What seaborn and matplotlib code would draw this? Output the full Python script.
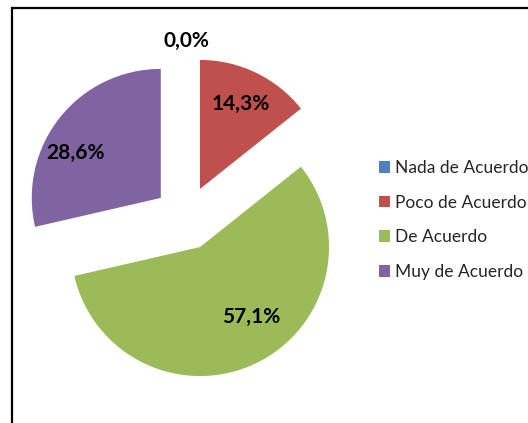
import matplotlib
matplotlib.use("Agg")
import numpy as np
import seaborn as sns
from matplotlib import pyplot as plt
from matplotlib.patches import Rectangle

# survey answers and their share of responses (percent)
categories = ["Nada de Acuerdo", "Poco de Acuerdo", "De Acuerdo", "Muy de Acuerdo"]
shares = [0.0, 14.3, 57.1, 28.6]
colors = ["#4F81BD", "#C0504D", "#9BBB59", "#8064A2"]


def fmt_pct(p):
    return ("%.1f%%" % p).replace(".", ",")


def makeplot():
    sns.set_theme(style="white")
    plt.rcParams["font.family"] = ["Lato", "DejaVu Sans"]

    fig = plt.figure(figsize=(5.28, 4.23), dpi=100)
    ax = fig.add_axes([0, 0, 1, 1])

    wedges, texts, autotexts = ax.pie(
        shares, colors=colors, startangle=90, counterclock=False,
        explode=[0.25] * len(shares), autopct=fmt_pct, pctdistance=0.72,
        wedgeprops=dict(linewidth=0),
        textprops=dict(fontsize=15, fontweight="bold", color="black"))

    # Excel-like label placement: (distance from the wedge tip, angle)
    place = [(1.12, 90), (0.73, 64.3), (0.67, -54), (0.75, 152)]
    for w, t, (d, a) in zip(wedges, autotexts, place):
        cx, cy = w.center
        t.set_position((cx + d * np.cos(np.radians(a)),
                        cy + d * np.sin(np.radians(a))))

    # radius of 129 px, centre at (186, 218) px from the top-left corner
    r = 129.0
    ax.set_xlim(-186 / r, (528 - 186) / r)
    ax.set_ylim(-(423 - 218) / r, 218 / r)
    ax.set_aspect("equal")
    ax.axis("off")

    ax.legend(wedges, categories, loc="center left",
              bbox_to_anchor=(379 / 528, 1 - 220 / 423),
              bbox_transform=fig.transFigure, frameon=False,
              fontsize=12.5, borderpad=0, borderaxespad=0,
              handlelength=0.65, handleheight=0.65, handletextpad=0.3,
              labelspacing=1.08)

    # chart-area border, cut off by the image on the right and bottom
    fig.add_artist(Rectangle((12 / 528, -0.1), 2, (415 / 423) + 0.1,
                             transform=fig.transFigure, fill=False,
                             edgecolor="black", linewidth=1.6))

    fig.savefig("out.png", dpi=100)


if __name__ == "__main__":
    makeplot()
